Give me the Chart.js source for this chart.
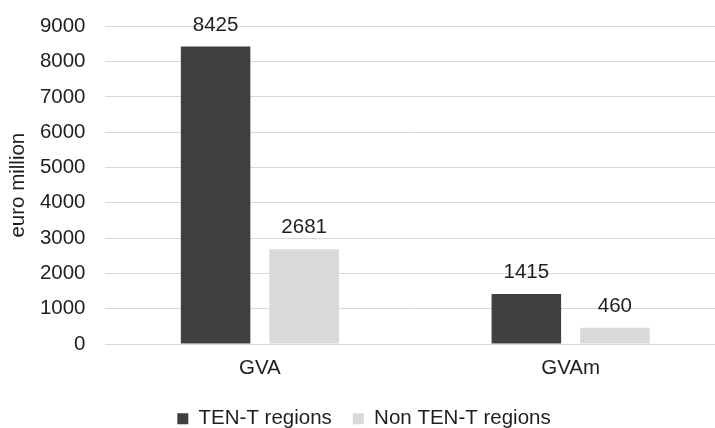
<!DOCTYPE html>
<html>
<head>
<meta charset="utf-8">
<script src="https://cdn.jsdelivr.net/npm/chart.js@4/dist/chart.umd.min.js"></script>
<style>
  html, body { margin: 0; padding: 0; background: #ffffff; overflow: hidden; }
  #wrap { width: 715px; height: 428px; overflow: hidden; }
  #c { display: block; margin-top: -5px; }
</style>
</head>
<body>
<div id="wrap"><canvas id="c" width="726" height="448"></canvas></div>
<script>
const categories = ['GVA', 'GVAm'];
const tenT = [8425, 1415];
const nonTenT = [2681, 460];
const seriesNames = ['TEN-T regions', 'Non TEN-T regions'];

const FONT = "'Liberation Sans', Arial, sans-serif";
const SIZE = 20.5;
const INK = '#1f1f1f';

// Writes each bar's value just above its top edge
const valueLabels = {
  id: 'valueLabels',
  afterDatasetsDraw(chart) {
    const ctx = chart.ctx;
    ctx.save();
    ctx.font = SIZE + 'px ' + FONT;
    ctx.fillStyle = INK;
    ctx.textAlign = 'center';
    ctx.textBaseline = 'alphabetic';
    chart.data.datasets.forEach((ds, i) => {
      chart.getDatasetMeta(i).data.forEach((bar, j) => {
        ctx.fillText(String(ds.data[j]), bar.x, bar.y - 16);
      });
    });
    ctx.restore();
  }
};

new Chart(document.getElementById('c'), {
  type: 'bar',
  data: {
    labels: categories,
    datasets: [
      { label: seriesNames[0], data: tenT, backgroundColor: '#404040' },
      { label: seriesNames[1], data: nonTenT, backgroundColor: '#d9d9d9' }
    ]
  },
  options: {
    responsive: false,
    animation: false,
    devicePixelRatio: 1,
    layout: { padding: { left: 2, right: 0, top: 12, bottom: 4 } },
    datasets: { bar: { categoryPercentage: 0.57, barPercentage: 0.785 } },
    plugins: {
      legend: {
        position: 'bottom',
        labels: {
          font: { family: FONT, size: SIZE },
          color: INK,
          boxWidth: 11,
          boxHeight: 11,
          padding: 21
        }
      },
      tooltip: { enabled: false }
    },
    scales: {
      x: {
        grid: { display: false },
        border: { display: false },
        afterFit: (scale) => { scale.height = 43.5; },
        ticks: { font: { family: FONT, size: SIZE }, color: INK, padding: 4 }
      },
      y: {
        min: 0,
        max: 9000,
        afterFit: (scale) => { scale.width = 102.5; },
        ticks: {
          stepSize: 1000,
          font: { family: FONT, size: SIZE },
          color: INK,
          padding: 19,
          callback: (v) => String(v)
        },
        grid: { color: '#d9d9d9', lineWidth: 1, drawTicks: false },
        border: { display: false },
        title: {
          display: true,
          text: 'euro million',
          font: { family: FONT, size: SIZE },
          color: INK,
          padding: { top: 4, bottom: 4 }
        }
      }
    }
  },
  plugins: [valueLabels]
});
</script>
</body>
</html>
